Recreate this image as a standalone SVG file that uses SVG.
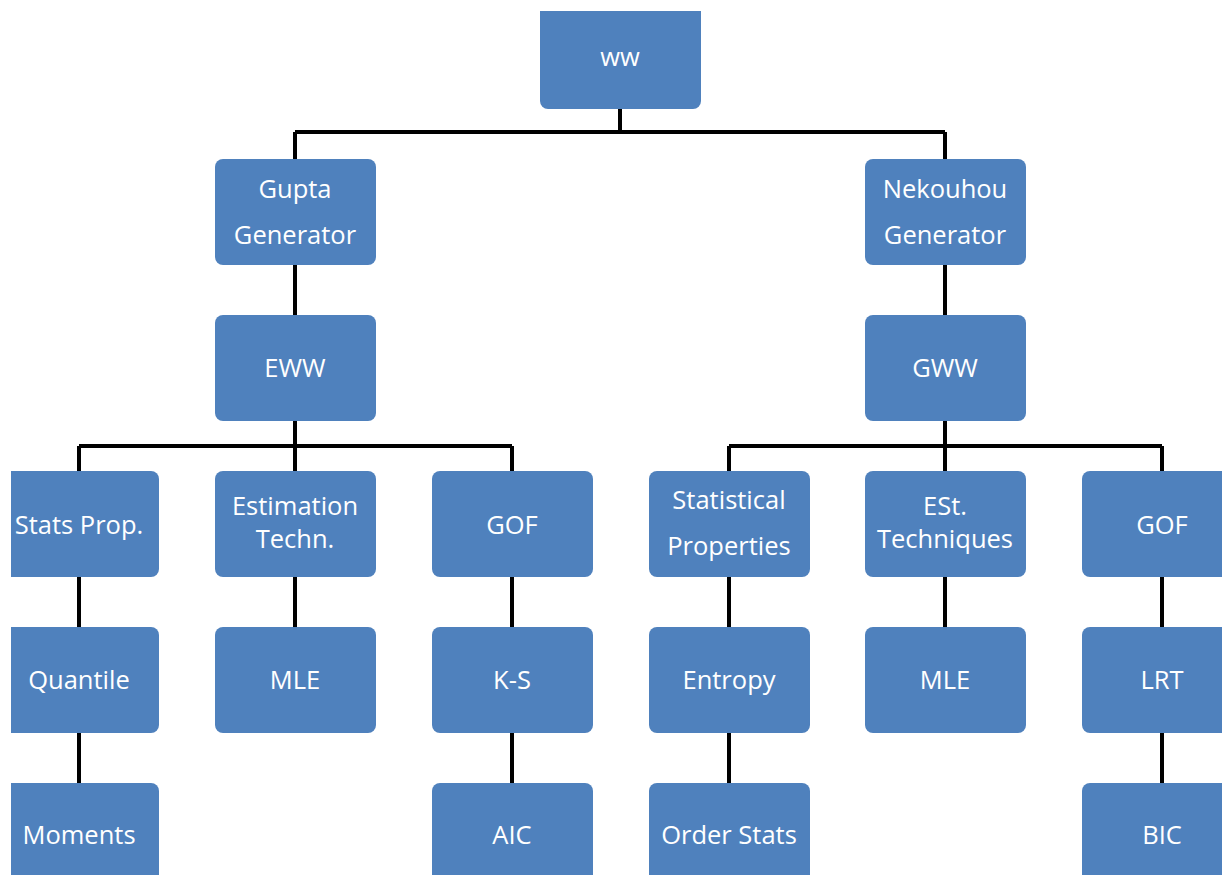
<svg xmlns="http://www.w3.org/2000/svg" width="1222" height="875" viewBox="0 0 1222 875">
<defs>
<clipPath id="view"><rect x="11" y="11" width="1211" height="864"/></clipPath>
<style>
.box{fill:#4F81BD;}
.t{font-family:"Open Sans","Liberation Sans",sans-serif;font-size:25.5px;fill:#ffffff;text-anchor:middle;dominant-baseline:central;}
.c{stroke:#000;stroke-width:4;fill:none;}
</style>
</defs>
<rect width="1222" height="875" fill="#ffffff"/>
<g clip-path="url(#view)">
<g id="connectors">
<path class="c" d="M620,109 V132 M295,132 H945 M295,132 V159 M945,132 V159"/>
<path class="c" d="M295,265 V315 M945,265 V315"/>
<path class="c" d="M295,420 V471 M79,446 H512 M79,446 V471 M512,446 V471"/>
<path class="c" d="M945,420 V471 M729,446 H1162 M729,446 V471 M1162,446 V471"/>
<path class="c" d="M79,577 V627 M295,577 V627 M512,577 V627 M729,577 V627 M945,577 V627 M1162,577 V627"/>
<path class="c" d="M79,733 V783 M512,733 V783 M729,733 V783 M1162,733 V783"/>
</g>
<g id="n-ww"><rect class="box" x="540" y="-10" width="161" height="119" rx="8"/><text class="t" x="620" y="56">ww</text></g>
<g id="n-gupta"><rect class="box" x="215" y="159" width="161" height="106" rx="8"/><text class="t" x="295" y="188">Gupta</text><text class="t" x="295" y="234">Generator</text></g>
<g id="n-nekouhou"><rect class="box" x="865" y="159" width="161" height="106" rx="8"/><text class="t" x="945" y="188">Nekouhou</text><text class="t" x="945" y="234">Generator</text></g>
<g id="n-eww"><rect class="box" x="215" y="315" width="161" height="106" rx="8"/><text class="t" x="295" y="367">EWW</text></g>
<g id="n-gww"><rect class="box" x="865" y="315" width="161" height="106" rx="8"/><text class="t" x="945" y="367">GWW</text></g>
<g id="n-statsprop"><rect class="box" x="-2" y="471" width="161" height="106" rx="8"/><text class="t" x="79" y="524">Stats Prop.</text></g>
<g id="n-estimation"><rect class="box" x="215" y="471" width="161" height="106" rx="8"/><text class="t" x="295" y="505">Estimation</text><text class="t" x="295" y="538">Techn.</text></g>
<g id="n-gof1"><rect class="box" x="432" y="471" width="161" height="106" rx="8"/><text class="t" x="512" y="524">GOF</text></g>
<g id="n-statistical"><rect class="box" x="649" y="471" width="161" height="106" rx="8"/><text class="t" x="729" y="499">Statistical</text><text class="t" x="729" y="545">Properties</text></g>
<g id="n-esttech"><rect class="box" x="865" y="471" width="161" height="106" rx="8"/><text class="t" x="945" y="505">ESt.</text><text class="t" x="945" y="538">Techniques</text></g>
<g id="n-gof2"><rect class="box" x="1082" y="471" width="161" height="106" rx="8"/><text class="t" x="1162" y="524">GOF</text></g>
<g id="n-quantile"><rect class="box" x="-2" y="627" width="161" height="106" rx="8"/><text class="t" x="79" y="679">Quantile</text></g>
<g id="n-mle1"><rect class="box" x="215" y="627" width="161" height="106" rx="8"/><text class="t" x="295" y="679">MLE</text></g>
<g id="n-ks"><rect class="box" x="432" y="627" width="161" height="106" rx="8"/><text class="t" x="512" y="679">K-S</text></g>
<g id="n-entropy"><rect class="box" x="649" y="627" width="161" height="106" rx="8"/><text class="t" x="729" y="679">Entropy</text></g>
<g id="n-mle2"><rect class="box" x="865" y="627" width="161" height="106" rx="8"/><text class="t" x="945" y="679">MLE</text></g>
<g id="n-lrt"><rect class="box" x="1082" y="627" width="161" height="106" rx="8"/><text class="t" x="1162" y="679">LRT</text></g>
<g id="n-moments"><rect class="box" x="-2" y="783" width="161" height="106" rx="8"/><text class="t" x="79" y="834">Moments</text></g>
<g id="n-aic"><rect class="box" x="432" y="783" width="161" height="106" rx="8"/><text class="t" x="512" y="834">AIC</text></g>
<g id="n-orderstats"><rect class="box" x="649" y="783" width="161" height="106" rx="8"/><text class="t" x="729" y="834">Order Stats</text></g>
<g id="n-bic"><rect class="box" x="1082" y="783" width="161" height="106" rx="8"/><text class="t" x="1162" y="834">BIC</text></g>
</g>
</svg>
